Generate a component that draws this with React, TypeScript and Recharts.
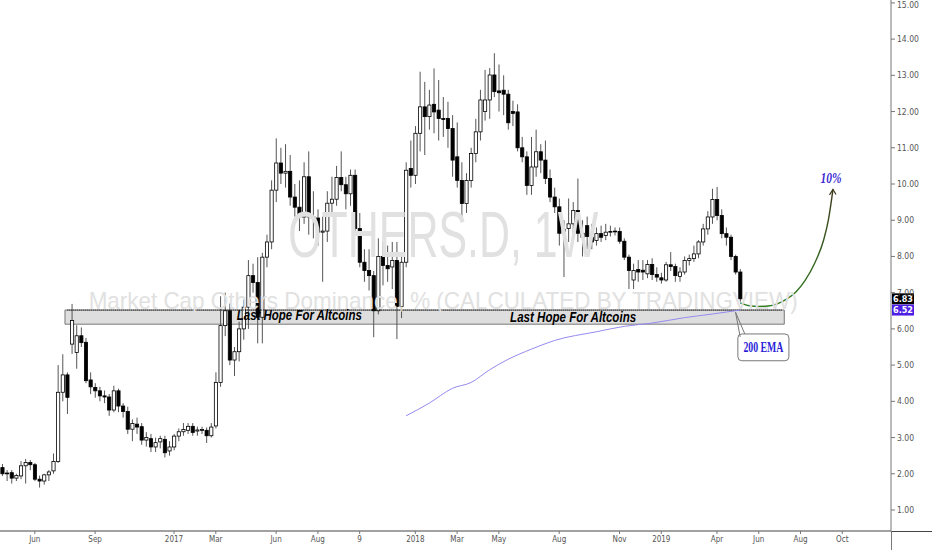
import React from 'react';
import {
    ComposedChart,
    Bar,
    Line,
    XAxis,
    YAxis,
    ReferenceArea,
    ReferenceLine,
    ReferenceDot
} from 'recharts';

// weekly candles, one per slot, OTHERS.D (Apr 2016 -> May 2019)
const open = [
    2.17, 2.00, 2.03, 1.88, 1.94, 2.22, 2.31, 2.25, 1.85, 1.80,
    1.97, 2.08, 2.34, 4.25, 4.73, 5.58, 5.35, 5.81, 5.63, 4.59,
    4.38, 4.29, 4.15, 4.12, 3.76, 4.29, 3.87, 3.72, 3.23, 3.37,
    3.30, 2.93, 2.97, 2.74, 2.88, 2.95, 2.63, 2.74, 3.04, 3.16,
    3.20, 3.31, 3.18, 3.20, 3.20, 3.05, 3.32, 4.52, 6.09, 6.50,
    5.14, 5.37, 6.00, 6.60, 7.47, 7.28, 6.32, 7.98, 8.40, 9.83,
    10.58, 10.30, 10.35, 9.64, 9.36, 9.09, 10.20, 9.09, 9.06, 8.67,
    8.70, 9.47, 9.58, 10.18, 9.98, 9.73, 10.24, 8.77, 7.84, 7.61,
    7.47, 6.50, 8.00, 7.75, 7.71, 7.89, 6.62, 7.84, 10.43, 10.24,
    11.40, 12.13, 11.86, 12.20, 12.04, 11.81, 11.81, 11.53, 10.75, 10.10,
    9.46, 10.10, 10.84, 11.44, 12.00, 12.32, 13.01, 12.57, 12.59, 12.48,
    12.00, 11.99, 11.00, 10.75, 9.96, 10.47, 10.89, 10.66, 10.15, 9.64,
    9.37, 8.68, 8.77, 8.90, 9.27, 8.64, 8.85, 8.53, 8.44, 8.63,
    8.58, 8.67, 8.69, 8.69, 8.42, 7.98, 7.35, 7.64, 7.62, 7.52,
    7.78, 7.50, 7.41, 7.35, 7.77, 7.72, 7.45, 7.57, 7.89, 7.94,
    8.07, 8.40, 8.76, 9.09, 9.57, 9.13, 8.63, 8.53, 8.00, 7.57
];

const close = [
    2.00, 2.02, 1.88, 1.95, 2.22, 2.31, 2.25, 1.85, 1.80, 1.97,
    2.05, 2.34, 4.25, 4.73, 4.11, 6.23, 5.81, 5.62, 4.57, 4.40,
    4.29, 4.15, 4.12, 3.76, 4.29, 3.87, 3.72, 3.23, 3.39, 3.29,
    2.93, 3.00, 2.74, 2.86, 2.97, 2.58, 2.74, 3.04, 3.16, 3.22,
    3.31, 3.14, 3.21, 3.22, 3.05, 3.29, 4.52, 6.09, 6.50, 5.14,
    5.37, 6.00, 6.60, 7.47, 7.28, 6.32, 7.98, 8.40, 9.83, 10.58,
    10.30, 10.35, 9.64, 9.36, 9.09, 10.20, 9.09, 9.06, 8.67, 8.70,
    9.47, 9.58, 10.18, 9.98, 9.73, 10.24, 8.77, 7.84, 7.61, 7.47,
    6.50, 8.00, 7.75, 7.66, 7.89, 6.62, 7.84, 10.38, 10.24, 11.40,
    12.13, 11.86, 12.18, 11.99, 11.81, 11.78, 11.53, 10.66, 10.10, 9.46,
    10.10, 10.84, 11.44, 12.32, 12.32, 13.01, 12.55, 12.52, 12.48, 11.69,
    11.95, 11.00, 10.75, 9.96, 10.47, 10.89, 10.66, 10.15, 9.64, 9.37,
    8.64, 8.75, 8.90, 9.27, 8.64, 8.53, 8.55, 8.40, 8.63, 8.53,
    8.67, 8.69, 8.70, 8.42, 7.98, 7.61, 7.61, 7.57, 7.57, 7.78,
    7.50, 7.43, 7.35, 7.77, 7.72, 7.47, 7.57, 7.89, 7.94, 8.07,
    8.40, 8.76, 9.09, 9.57, 9.13, 8.63, 8.53, 8.00, 7.57, 6.83
];

const high = [
    2.27, 2.10, 2.10, 2.00, 2.35, 2.41, 2.38, 2.30, 1.95, 2.00,
    2.10, 2.56, 5.00, 5.30, 4.80, 6.69, 6.10, 6.04, 5.75, 4.80,
    4.50, 4.40, 4.30, 4.20, 4.43, 4.35, 3.95, 3.85, 3.50, 3.55,
    3.40, 3.15, 3.10, 3.00, 3.05, 3.05, 2.90, 3.10, 3.25, 3.40,
    3.40, 3.40, 3.30, 3.30, 3.28, 3.40, 4.80, 6.90, 7.00, 6.70,
    5.50, 6.20, 6.80, 7.90, 7.80, 7.98, 8.10, 8.60, 10.10, 11.26,
    11.00, 11.10, 10.80, 10.00, 10.10, 10.60, 10.90, 9.80, 9.30, 9.10,
    9.80, 10.20, 10.50, 10.90, 10.20, 10.40, 10.40, 9.20, 8.20, 8.20,
    7.60, 8.50, 8.40, 8.30, 8.40, 8.40, 8.10, 10.60, 11.20, 11.60,
    13.10, 12.82, 12.60, 13.19, 12.87, 12.40, 12.27, 11.90, 11.70, 10.60,
    10.30, 11.00, 11.80, 12.60, 13.15, 13.20, 13.61, 13.30, 13.00, 12.60,
    12.30, 12.20, 11.30, 10.90, 11.30, 11.50, 11.10, 11.20, 10.40, 9.90,
    9.60, 9.00, 9.60, 9.50, 10.15, 9.00, 9.10, 8.90, 8.80, 8.85,
    8.90, 8.85, 8.80, 8.80, 8.50, 8.05, 7.80, 7.90, 7.90, 7.90,
    7.95, 7.70, 7.55, 7.85, 8.12, 7.80, 7.70, 8.00, 8.05, 8.30,
    8.45, 8.90, 9.25, 9.87, 9.92, 9.30, 8.80, 8.60, 8.05, 7.65
];

const low = [
    1.94, 1.80, 1.73, 1.80, 1.85, 1.73, 2.10, 1.80, 1.62, 1.70,
    1.80, 2.00, 2.30, 4.00, 3.65, 5.31, 4.90, 5.50, 4.50, 4.20,
    4.10, 4.00, 3.95, 3.60, 3.70, 3.70, 3.55, 3.10, 2.90, 3.10,
    2.80, 2.75, 2.60, 2.60, 2.70, 2.45, 2.50, 2.65, 2.90, 3.05,
    3.10, 3.05, 3.05, 3.10, 2.85, 3.00, 3.25, 4.40, 5.80, 5.00,
    4.70, 5.10, 5.70, 6.00, 7.00, 5.60, 5.60, 7.70, 8.20, 9.50,
    10.00, 9.90, 9.40, 9.10, 8.70, 8.90, 8.60, 8.50, 8.30, 7.30,
    8.40, 9.20, 9.40, 9.80, 9.30, 9.40, 8.60, 7.70, 7.30, 7.06,
    5.77, 6.40, 7.20, 7.30, 7.10, 5.72, 6.30, 7.70, 9.90, 10.00,
    10.90, 10.80, 11.50, 11.40, 11.20, 11.30, 11.00, 10.20, 9.90, 9.00,
    9.20, 9.90, 10.60, 11.20, 11.75, 11.80, 12.40, 12.00, 11.90, 11.50,
    11.60, 10.90, 10.60, 9.70, 9.70, 10.20, 10.30, 10.00, 9.50, 9.20,
    8.30, 7.43, 8.40, 8.60, 8.40, 8.00, 8.20, 8.20, 8.30, 8.40,
    8.45, 8.55, 8.58, 8.35, 7.90, 7.10, 7.10, 7.30, 7.35, 7.40,
    7.35, 7.30, 7.25, 7.30, 7.60, 7.30, 7.30, 7.50, 7.75, 7.85,
    7.95, 8.30, 8.60, 8.90, 9.00, 8.50, 8.30, 7.90, 7.50, 6.75
];

// 200 EMA at a few weeks
const emaAt = [87, 92, 97, 101, 105, 109, 114, 119, 128, 134, 140, 147, 153, 159];
const emaVal = [3.60, 3.95, 4.36, 4.52, 4.87, 5.16, 5.44, 5.68, 5.92, 6.07, 6.16, 6.31, 6.41, 6.52];

// the drawn "10%" projection arrow
const arrowAt = [159, 161, 163, 165, 167, 169, 171, 173, 175, 177, 178, 179];
const arrowVal = [6.72, 6.64, 6.62, 6.63, 6.69, 6.82, 7.02, 7.34, 7.80, 8.46, 9.00, 9.85];

const tickAt = [7, 20, 37, 46, 59, 68, 77, 89, 98, 107, 120, 133, 142, 154, 163, 172, 181];
const tickText = ['Jun', 'Sep', '2017', 'Mar', 'Jun', 'Aug', '9', '2018', 'Mar', 'May', 'Aug', 'Nov', '2019', 'Apr', 'Jun', 'Aug', 'Oct'];
const priceTicks = [1, 2, 3, 4, 5, 6, 7, 8, 9, 10, 11, 12, 13, 14, 15];

const SLOTS = 192;
const SANS = "'Liberation Sans', Arial, sans-serif";
const NARROW = "'Liberation Sans Narrow', 'DejaVu Sans Condensed', 'Liberation Sans', sans-serif";
const SERIF = "'Liberation Serif', 'Times New Roman', serif";

const rows = Array.from({ length: SLOTS }, (_, i) => {
    const e = emaAt.indexOf(i);
    const a = arrowAt.indexOf(i);
    return {
        i,
        open: i < open.length ? open[i] : null,
        high: i < high.length ? high[i] : null,
        low: i < low.length ? low[i] : null,
        close: i < close.length ? close[i] : null,
        ema: e >= 0 ? emaVal[e] : null,
        arrow: a >= 0 ? arrowVal[a] : null
    };
});

const Candle = (props: any) => {
    const { x, y, width, height, payload } = props;
    if (!payload || payload.open == null || !isFinite(y) || !isFinite(height)) return <g />;
    const top = Math.min(y, y + height);
    const h = Math.abs(height);
    const k = payload.high - payload.low > 0 ? h / (payload.high - payload.low) : 0;
    const yOf = (v: number) => top + (payload.high - v) * k;
    const cx = x + width / 2;
    const up = payload.close >= payload.open;
    const bTop = yOf(Math.max(payload.open, payload.close));
    const bBot = yOf(Math.min(payload.open, payload.close));
    return (
        <g>
            <line x1={cx} x2={cx} y1={top} y2={top + h} stroke="#555" strokeWidth={1} />
            <rect
                x={cx - 1.6}
                y={bTop}
                width={3.2}
                height={Math.max(bBot - bTop, 0.8)}
                fill={up ? '#ffffff' : '#000000'}
                stroke="#000"
                strokeWidth={0.8}
            />
        </g>
    );
};

// big grey background captions
const watermark = (text: string, size: number, length: number) => (p: any) => (
    <text
        x={p.cx}
        y={p.cy}
        textAnchor="middle"
        fontSize={size}
        fontFamily={SANS}
        textLength={length}
        lengthAdjust="spacingAndGlyphs"
        fill="#e1e1e1"
    >
        {text}
    </text>
);

const caption = (text: string, length: number) => (p: any) => (
    <text
        x={p.cx}
        y={p.cy}
        textAnchor="middle"
        fontSize={14}
        fontFamily={SANS}
        fontWeight="bold"
        fontStyle="italic"
        textLength={length}
        lengthAdjust="spacingAndGlyphs"
        fill="#000"
    >
        {text}
    </text>
);

const priceTag = (text: string, color: string) => (p: any) => {
    const vb = p.viewBox || {};
    const right = (vb.x || 0) + (vb.width || 0);
    return (
        <g>
            <rect x={right + 1} y={vb.y - 5.5} width={22} height={11} fill={color} />
            <text
                x={right + 12}
                y={vb.y}
                dy="0.35em"
                textAnchor="middle"
                fontSize={9}
                fontFamily={NARROW}
                fontWeight="bold"
                fill="#fff"
            >
                {text}
            </text>
        </g>
    );
};

const EmaBox = (p: any) => (
    <g>
        <rect x={p.x} y={p.y} width={p.width} height={p.height} rx={4} fill="#fff" stroke="#777" strokeWidth={1} />
        <text
            x={p.x + p.width / 2}
            y={p.y + p.height / 2}
            dy="0.35em"
            textAnchor="middle"
            fontSize={14}
            fontFamily={SERIF}
            fontWeight="bold"
            textLength={40}
            lengthAdjust="spacingAndGlyphs"
            fill="#2c1ed8"
        >
            200 EMA
        </text>
    </g>
);

const App: React.FC = () => {
    const lastClose = close[close.length - 1];
    const lastEma = emaVal[emaVal.length - 1];
    const arrowEnd = arrowAt[arrowAt.length - 1];

    return (
        <div style={{ position: 'absolute', left: 0, top: 0, width: 932, height: 550, background: '#fff' }}>
            <ComposedChart width={932} height={550} data={rows} margin={{ top: 0, right: 0, bottom: 0, left: 0 }}>
                <defs>
                    <linearGradient id="arrowGrad" x1="0" y1="1" x2="0" y2="0">
                        <stop offset="0%" stopColor="#2f7d1f" />
                        <stop offset="100%" stopColor="#3d3a1c" />
                    </linearGradient>
                </defs>
                <XAxis
                    dataKey="i"
                    type="category"
                    ticks={tickAt}
                    interval={0}
                    tickFormatter={(v: number) => tickText[tickAt.indexOf(v)]}
                    height={19}
                    tickSize={3}
                    axisLine={{ stroke: '#444' }}
                    tickLine={{ stroke: '#777' }}
                    tick={{ fontSize: 8, fill: '#555', fontFamily: NARROW }}
                />
                <YAxis
                    orientation="right"
                    width={41}
                    type="number"
                    domain={[0.42, 15.08]}
                    ticks={priceTicks}
                    allowDataOverflow
                    tickFormatter={(v: number) => v.toFixed(2)}
                    tickSize={4}
                    axisLine={{ stroke: '#777' }}
                    tickLine={{ stroke: '#777' }}
                    tick={{ fontSize: 8.5, fill: '#555', fontFamily: NARROW }}
                />

                <ReferenceDot x={95} y={7.98} r={1} fill="none" stroke="none" shape={watermark('OTHERS.D, 1W', 65, 310)} />
                <ReferenceDot
                    x={95}
                    y={6.55}
                    r={1}
                    fill="none"
                    stroke="none"
                    shape={watermark('Market Cap Others Dominance, % (CALCULATED BY TRADINGVIEW)', 24, 709)}
                />

                <Bar dataKey={(d: any) => (d.open == null ? null : [d.low, d.high])} shape={Candle} isAnimationActive={false} />

                <ReferenceArea x1={14} x2={168} y1={6.13} y2={6.52} fill="#c8c8c8" fillOpacity={0.6} stroke="#777" strokeWidth={1} />
                <ReferenceLine
                    segment={[{ x: 14, y: 6.52 }, { x: 168, y: 6.52 }]}
                    stroke="#000"
                    strokeDasharray="1 1"
                />

                <Line
                    dataKey="ema"
                    type="monotone"
                    connectNulls
                    stroke="#958af0"
                    strokeWidth={1}
                    dot={false}
                    activeDot={false}
                    isAnimationActive={false}
                />
                <Line
                    dataKey="arrow"
                    type="monotone"
                    connectNulls
                    stroke="url(#arrowGrad)"
                    strokeWidth={1.4}
                    activeDot={false}
                    isAnimationActive={false}
                    dot={(p: any) => {
                        if (!p.payload || p.payload.i !== arrowEnd || p.cy == null) return <g key={p.index} />;
                        return (
                            <path
                                key={p.index}
                                d={`M${p.cx - 3.5},${p.cy + 5.5} L${p.cx},${p.cy} L${p.cx + 3},${p.cy + 5}`}
                                fill="none"
                                stroke="#3d3a1c"
                                strokeWidth={1.2}
                            />
                        );
                    }}
                />

                <ReferenceDot x={64} y={6.25} r={1} fill="none" stroke="none" shape={caption('Last Hope For Altcoins', 125)} />
                <ReferenceDot x={123} y={6.19} r={1} fill="none" stroke="none" shape={caption('Last Hope For Altcoins', 126)} />

                <ReferenceLine segment={[{ x: 158, y: 6.46 }, { x: 159, y: 5.78 }]} stroke="#777" />
                <ReferenceLine segment={[{ x: 158, y: 6.46 }, { x: 160, y: 5.86 }]} stroke="#777" />
                <ReferenceArea x1={159} x2={169} y1={5.12} y2={5.86} shape={EmaBox} />

                <ReferenceDot
                    x={179}
                    y={10.04}
                    r={1}
                    fill="none"
                    stroke="none"
                    shape={(p: any) => (
                        <text
                            x={p.cx - 2}
                            y={p.cy}
                            textAnchor="middle"
                            fontSize={14}
                            fontFamily={SERIF}
                            fontWeight="bold"
                            fontStyle="italic"
                            textLength={21}
                            lengthAdjust="spacingAndGlyphs"
                            fill="#3c2bd2"
                        >
                            10%
                        </text>
                    )}
                />

                <ReferenceLine y={lastClose} stroke="none" label={{ content: priceTag(lastClose.toFixed(2), '#000') }} />
                <ReferenceLine y={lastEma} stroke="none" label={{ content: priceTag(lastEma.toFixed(2), '#4d1fe6') }} />
            </ComposedChart>
            {/* axis lines run on past the plot corner */}
            <div style={{ position: 'absolute', left: 891, top: 531, width: 41, height: 1, background: '#444' }} />
            <div style={{ position: 'absolute', left: 891, top: 531, width: 1, height: 19, background: '#777' }} />
        </div>
    );
};

export default App;
